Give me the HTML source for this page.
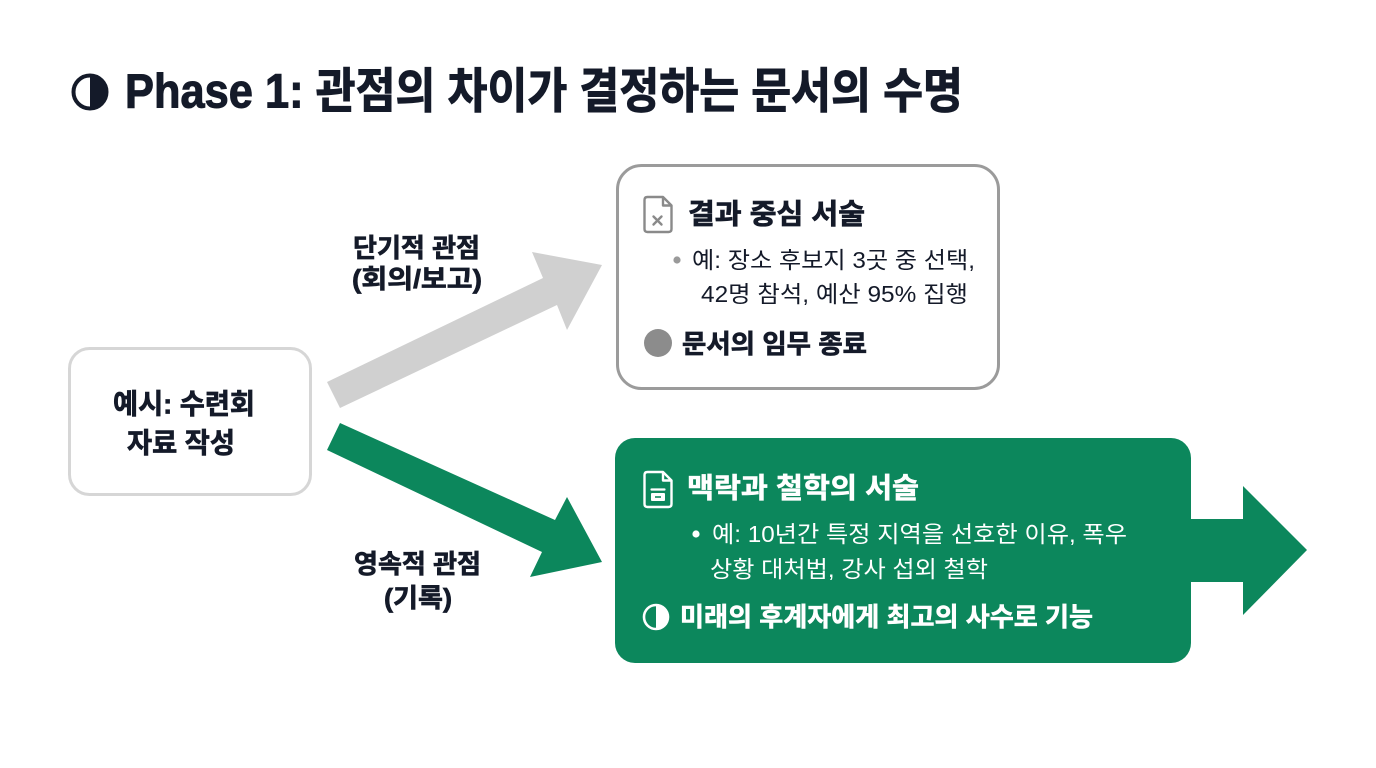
<!DOCTYPE html>
<html>
<head>
<meta charset="utf-8">
<style>
  html,body{margin:0;padding:0;background:#ffffff;}
  body{width:1376px;height:768px;overflow:hidden;}
  svg{display:block;}
  text{font-family:"Liberation Sans","Noto Sans CJK KR",sans-serif;}
  .b{font-weight:700;}
  .dark{fill:#141a29;}
  .bd{stroke:#141a29;stroke-width:0.7;}
  .bw{stroke:#ffffff;stroke-width:0.6;}
</style>
</head>
<body>
<svg width="1376" height="768" viewBox="0 0 1376 768" xmlns="http://www.w3.org/2000/svg">
  <rect x="0" y="0" width="1376" height="768" fill="#ffffff"/>

  <!-- Title -->
  <circle cx="90" cy="92" r="16.5" fill="#ffffff" stroke="#141a29" stroke-width="4"/>
  <path d="M90,75.5 A16.5,16.5 0 0 1 90,108.5 Z" fill="#141a29"/>
  <text x="125" y="92" class="b dark bd" font-size="48" dominant-baseline="central" textLength="838" lengthAdjust="spacingAndGlyphs" style="stroke-width:1">Phase 1: 관점의 차이가 결정하는 문서의 수명</text>

  <!-- Left box -->
  <rect x="69.5" y="348.5" width="241" height="146" rx="20" ry="20" fill="#ffffff" stroke="#d6d6d6" stroke-width="3"/>
  <text x="113" y="404" class="b dark bd" font-size="28" dominant-baseline="central" textLength="142" lengthAdjust="spacingAndGlyphs">예시: 수련회</text>
  <text x="127" y="443" class="b dark bd" font-size="28" dominant-baseline="central" textLength="108" lengthAdjust="spacingAndGlyphs">자료 작성</text>

  <!-- Gray arrow -->
  <polygon points="327,382 543,278 532,252 602,265 567,330 557,305 340,408" fill="#d0d0d0"/>
  <!-- Green arrow -->
  <polygon points="340,423 555,520 567,497 602,562 530,577 542,552 327,450" fill="#0c875c"/>

  <!-- Arrow labels -->
  <text x="353" y="248" class="b dark bd" font-size="26" dominant-baseline="central" textLength="127" lengthAdjust="spacingAndGlyphs">단기적 관점</text>
  <text x="352" y="279" class="b dark bd" font-size="26" dominant-baseline="central" textLength="130" lengthAdjust="spacingAndGlyphs">(회의/보고)</text>
  <text x="354" y="564" class="b dark bd" font-size="26" dominant-baseline="central" textLength="127" lengthAdjust="spacingAndGlyphs">영속적 관점</text>
  <text x="384" y="598" class="b dark bd" font-size="26" dominant-baseline="central" textLength="68" lengthAdjust="spacingAndGlyphs">(기록)</text>

  <!-- Top right gray box -->
  <rect x="617.5" y="165.5" width="381" height="223" rx="24" ry="24" fill="#ffffff" stroke="#9b9b9b" stroke-width="3"/>
  <!-- file-x icon -->
  <path d="M647.5,197 H663 L671.5,205.5 V229 Q671.5,232 668.5,232 H647.5 Q644.5,232 644.5,229 V200 Q644.5,197 647.5,197 Z" fill="none" stroke="#8a8a8a" stroke-width="2.4" stroke-linejoin="round"/>
  <path d="M663,197 V205.5 H671.5" fill="none" stroke="#8a8a8a" stroke-width="2.4" stroke-linejoin="round"/>
  <path d="M653.5,216.5 L661.5,224.5 M661.5,216.5 L653.5,224.5" stroke="#8a8a8a" stroke-width="2.4" stroke-linecap="round"/>
  <text x="688" y="214" class="b dark bd" font-size="28" dominant-baseline="central" textLength="177" lengthAdjust="spacingAndGlyphs">결과 중심 서술</text>
  <circle cx="677" cy="260" r="3.6" fill="#9a9a9a"/>
  <text x="692" y="260" class="dark" font-size="23" dominant-baseline="central" textLength="283" lengthAdjust="spacingAndGlyphs">예: 장소 후보지 3곳 중 선택,</text>
  <text x="701" y="294" class="dark" font-size="23" dominant-baseline="central" textLength="267" lengthAdjust="spacingAndGlyphs">42명 참석, 예산 95% 집행</text>
  <circle cx="658" cy="343" r="14" fill="#8c8c8c"/>
  <text x="682" y="344" class="b dark bd" font-size="26" dominant-baseline="central" textLength="185" lengthAdjust="spacingAndGlyphs">문서의 임무 종료</text>

  <!-- Green box + right arrow -->
  <rect x="615" y="438" width="576" height="225" rx="20" ry="20" fill="#0c875c"/>
  <rect x="1185" y="519" width="59" height="63" fill="#0c875c"/>
  <polygon points="1243,486 1307,550 1243,615" fill="#0c875c"/>

  <!-- doc icon (white) -->
  <path d="M647.5,472 H663 L671.5,480.5 V504 Q671.5,507 668.5,507 H647.5 Q644.5,507 644.5,504 V475 Q644.5,472 647.5,472 Z" fill="none" stroke="#ffffff" stroke-width="2.4" stroke-linejoin="round"/>
  <path d="M663,472 V480.5 H671.5" fill="none" stroke="#ffffff" stroke-width="2.4" stroke-linejoin="round"/>
  <path d="M651.5,489.5 H664.5" stroke="#ffffff" stroke-width="2.2" stroke-linecap="round"/>
  <rect x="651" y="493" width="14" height="8" rx="1" fill="#ffffff"/>
  <path d="M655,497 H661" stroke="#0c875c" stroke-width="1.6"/>

  <text x="687" y="488" class="b bw" fill="#ffffff" font-size="28" dominant-baseline="central" textLength="232" lengthAdjust="spacingAndGlyphs">맥락과 철학의 서술</text>
  <circle cx="696" cy="534" r="3.6" fill="#ffffff"/>
  <text x="712" y="534" fill="#ffffff" font-size="23" dominant-baseline="central" textLength="415" lengthAdjust="spacingAndGlyphs">예: 10년간 특정 지역을 선호한 이유, 폭우</text>
  <text x="710" y="569" fill="#ffffff" font-size="23" dominant-baseline="central" textLength="278" lengthAdjust="spacingAndGlyphs">상황 대처법, 강사 섭외 철학</text>

  <circle cx="656" cy="617" r="12" fill="#0c875c" stroke="#ffffff" stroke-width="2.6"/>
  <path d="M656,605 A12,12 0 0 1 656,629 Z" fill="#ffffff"/>
  <text x="680" y="617" class="b bw" fill="#ffffff" font-size="26" dominant-baseline="central" textLength="413" lengthAdjust="spacingAndGlyphs">미래의 후계자에게 최고의 사수로 기능</text>
</svg>
</body>
</html>
